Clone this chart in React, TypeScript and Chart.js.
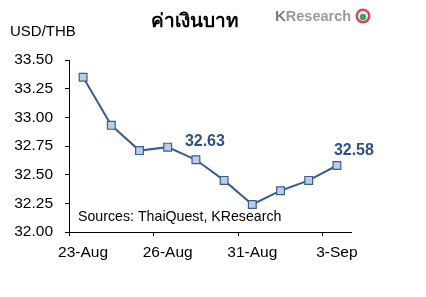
import React, { useEffect, useRef } from "react";
import { Chart, registerables } from "chart.js";

Chart.register(...registerables);

const categories = ["23-Aug", "24-Aug", "25-Aug", "26-Aug", "27-Aug", "30-Aug", "31-Aug", "1-Sep", "2-Sep", "3-Sep"];
const usdThb = [33.35, 32.93, 32.71, 32.74, 32.63, 32.45, 32.24, 32.36, 32.45, 32.58];
const labelledPoints = [4, 9];
const labelOffsets = [[9, -18], [17, -15]];
const titleText = "ค่าเงินบาท";
const unitText = "USD/THB";
const sourceText = "Sources: ThaiQuest, KResearch";
const logoK = "K";
const logoRest = "Research";

const FONT = "'Liberation Sans', Arial, sans-serif";
const DARK = "#2F5089";

const overlay = {
  id: "overlay",
  afterDatasetsDraw(chart: any) {
    const ctx = chart.ctx;
    ctx.save();
    // title
    ctx.fillStyle = "#000";
    ctx.textAlign = "center";
    ctx.textBaseline = "middle";
    ctx.font = `bold 19px 'Noto Sans', ${FONT}`;
    ctx.fillText(titleText, 195, 22);
    // unit
    ctx.font = `15px ${FONT}`;
    ctx.textAlign = "left";
    ctx.fillText(unitText, 10, 32);
    // source
    ctx.font = `14.2px ${FONT}`;
    ctx.fillText(sourceText, 78, 217);
    // logo
    ctx.font = `bold 15px ${FONT}`;
    ctx.fillStyle = "#7d7d7d";
    ctx.fillText(logoK, 275, 17);
    const kw = ctx.measureText(logoK).width;
    ctx.font = `bold 14.5px ${FONT}`;
    ctx.fillStyle = "#9a9a9a";
    ctx.fillText(logoRest, 275 + kw, 17);
    ctx.beginPath();
    ctx.arc(363, 16, 7.5, 0, Math.PI * 2);
    ctx.fillStyle = "#d9455b";
    ctx.fill();
    ctx.beginPath();
    ctx.arc(363, 16, 5, 0, Math.PI * 2);
    ctx.fillStyle = "#f4f4f4";
    ctx.fill();
    ctx.beginPath();
    ctx.arc(363, 17, 3.2, 0, Math.PI * 2);
    ctx.fillStyle = "#3aa35a";
    ctx.fill();
    // data labels
    const meta = chart.getDatasetMeta(0);
    ctx.font = `bold 16px ${FONT}`;
    ctx.fillStyle = DARK;
    ctx.textAlign = "center";
    labelledPoints.forEach((idx, k) => {
      const el = meta.data[idx];
      ctx.fillText(usdThb[idx].toFixed(2), el.x + labelOffsets[k][0], el.y + labelOffsets[k][1]);
    });
    ctx.restore();
  },
};

export default function App() {
  const ref = useRef<HTMLCanvasElement>(null);
  useEffect(() => {
    if (!ref.current) return;
    const chart = new Chart(ref.current, {
      type: "line",
      data: {
        labels: categories,
        datasets: [
          {
            data: usdThb,
            borderColor: "#3A5F8F",
            borderWidth: 2,
            pointStyle: "rect",
            pointRadius: 5.5,
            pointBackgroundColor: "#B9CDE5",
            pointBorderColor: "#3A5F8F",
            pointBorderWidth: 1.2,
            tension: 0,
          },
        ],
      },
      options: {
        animation: false,
        responsive: false,
        devicePixelRatio: 1,
        layout: { padding: { top: 60, right: 75, left: 0, bottom: 0 } },
        plugins: { legend: { display: false }, tooltip: { enabled: false }, title: { display: false } },
        scales: {
          x: {
            type: "category",
            offset: true,
            afterFit: (s: any) => { s.height = 65; },
            grid: {
              offset: true,
              drawOnChartArea: false,
              tickLength: 4,
              tickColor: (c: any) => (c.index % 3 === 0 ? "#000" : "rgba(0,0,0,0)"),
            },
            border: { display: true, color: "#000", width: 1 },
            ticks: {
              autoSkip: false,
              maxRotation: 0,
              padding: 7,
              color: "#000",
              font: { family: FONT, size: 15.5 },
              callback: (_v: any, i: number) => (i % 3 === 0 ? categories[i] : ""),
            },
          },
          y: {
            min: 32,
            max: 33.5,
            afterFit: (s: any) => { s.width = 69; },
            grid: { drawOnChartArea: false, tickLength: 4, tickColor: "#000" },
            border: { display: true, color: "#000", width: 1 },
            ticks: {
              stepSize: 0.25,
              padding: 12,
              color: "#000",
              font: { family: FONT, size: 15.5 },
              callback: (v: any) => Number(v).toFixed(2),
            },
          },
        },
      },
      plugins: [overlay],
    });
    return () => chart.destroy();
  }, []);
  return (
    <div style={{ position: "absolute", left: 0, top: 0, width: 426, height: 297, background: "#fff" }}>
      <canvas ref={ref} width={426} height={297} style={{ width: 426, height: 297 }} />
    </div>
  );
}
